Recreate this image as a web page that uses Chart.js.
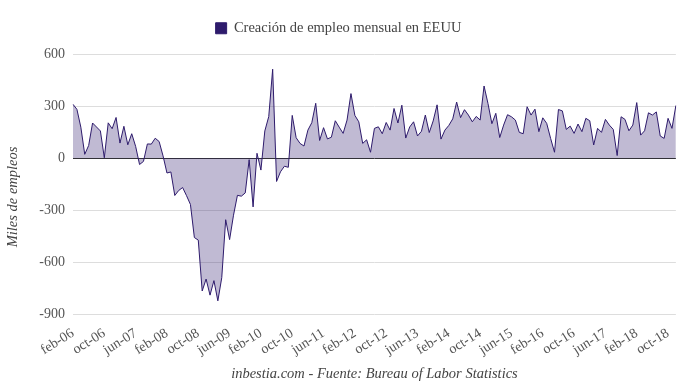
<!DOCTYPE html>
<html>
<head>
<meta charset="utf-8">
<script src="https://cdn.jsdelivr.net/npm/chart.js@4"></script>
<style>
  html, body { margin: 0; padding: 0; background: #fff; }
  #wrap { width: 680px; height: 387px; }
</style>
</head>
<body>
<div id="wrap"><canvas id="myChart" width="680" height="387"></canvas></div>
<script>
// Abreviaturas de los meses para el eje x
const mesesEtiqueta = ['jan', 'feb', 'mar', 'apr', 'may', 'jun', 'jul', 'aug', 'sep', 'oct', 'nov', 'dec'];

// Creación de empleo mensual (miles) (feb-06 .. dic-18)
const empleo2006 = [312, 283, 180, 23, 74, 204, 181, 158, 3, 205, 171];
const empleo2007 = [236, 88, 185, 78, 142, 69, -36, -18, 83, 82, 116, 97];
const empleo2008 = [14, -85, -79, -215, -186, -169, -216, -267, -458, -473, -767, -698];
const empleo2009 = [-791, -707, -824, -690, -355, -470, -329, -214, -219, -200, -8, -281];
const empleo2010 = [29, -68, 158, 241, 515, -134, -78, -46, -52, 248, 119, 86];
const empleo2011 = [71, 163, 206, 318, 103, 177, 112, 122, 217, 180, 144, 221];
const empleo2012 = [374, 248, 211, 86, 107, 35, 173, 182, 142, 207, 163, 288];
const empleo2013 = [204, 307, 117, 181, 211, 129, 156, 250, 149, 216, 309, 111];
const empleo2014 = [163, 190, 228, 325, 235, 281, 250, 211, 242, 221, 418, 317];
const empleo2015 = [200, 260, 120, 192, 252, 240, 221, 150, 142, 298, 250, 284];
const empleo2016 = [154, 234, 202, 115, 35, 282, 274, 167, 186, 144, 198, 154];
const empleo2017 = [231, 217, 77, 173, 150, 225, 192, 167, 16, 240, 225, 159];
const empleo2018 = [192, 322, 134, 159, 263, 250, 268, 129, 115, 231, 173, 305];

const empleo = [].concat(empleo2006, empleo2007, empleo2008, empleo2009, empleo2010,
    empleo2011, empleo2012, empleo2013, empleo2014, empleo2015, empleo2016,
    empleo2017, empleo2018);

// Etiquetas del eje x: "feb-06", "mar-06", ...
const etiquetas = [];
for (let i = 0; i < empleo.length; i++) {
    const m = (1 + i) % 12;
    const a = 6 + Math.floor((1 + i) / 12);
    etiquetas.push(mesesEtiqueta[m] + '-' + String(a).padStart(2, '0'));
}
// Solo se ve una etiqueta cada 8 meses
const etiquetasVisibles = ['feb-06', 'oct-06', 'jun-07', 'feb-08', 'oct-08', 'jun-09', 'feb-10',
    'oct-10', 'jun-11', 'feb-12', 'oct-12', 'jun-13', 'feb-14', 'oct-14', 'jun-15', 'feb-16',
    'oct-16', 'jun-17', 'feb-18', 'oct-18'];

const ticksY = [600, 300, 0, -300, -600, -900];

const fuente = "'Liberation Serif', 'DejaVu Serif', serif";
const morado = '#2e1b6c';

// Un poco más de espacio debajo de la leyenda
const legendaAlta = {
    id: 'legendaAlta',
    beforeInit: function(chart) {
        const fit = chart.legend.fit;
        chart.legend.fit = function() {
            fit.bind(chart.legend)();
            this.height += 9;
        };
    }
};

const ctx = document.getElementById('myChart').getContext('2d');

const myChart = new Chart(ctx, {
    type: 'line',
    data: {
        labels: etiquetas,
        datasets: [{
            label: 'Creación de empleo mensual en EEUU',
            data: empleo,
            borderColor: morado,
            borderWidth: 1,
            backgroundColor: 'rgba(46, 27, 108, 0.3)',
            fill: 'origin',
            pointRadius: 0,
            tension: 0
        }]
    },
    plugins: [legendaAlta],
    options: {
        responsive: false,
        animation: false,
        layout: { padding: { top: 11, right: 3, left: 0, bottom: 0 } },
        plugins: {
            legend: {
                labels: {
                    boxWidth: 11,
                    boxHeight: 11,
                    color: '#444',
                    font: { family: fuente, size: 14.5 },
                    generateLabels: function(chart) {
                        return Chart.defaults.plugins.legend.labels.generateLabels(chart).map(function(l) {
                            l.fillStyle = morado;
                            l.strokeStyle = morado;
                            return l;
                        });
                    }
                }
            },
            tooltip: { enabled: false }
        },
        scales: {
            x: {
                grid: { display: false },
                border: { display: false },
                ticks: {
                    autoSkip: false,
                    minRotation: 32,
                    maxRotation: 32,
                    color: '#555',
                    font: { family: fuente, size: 14 },
                    callback: function(v, i) {
                        return i % 8 === 0 ? etiquetasVisibles[i / 8] : null;
                    }
                },
                title: {
                    display: true,
                    text: 'inbestia.com - Fuente: Bureau of Labor Statistics',
                    color: '#444',
                    font: { family: fuente, size: 14.5, style: 'italic' },
                    padding: { top: 10 }
                },
                afterFit: function(scale) { scale.height = 73; }
            },
            y: {
                min: -900,
                max: 600,
                afterBuildTicks: function(scale) {
                    scale.ticks = ticksY.map(v => ({ value: v }));
                },
                border: { display: false },
                grid: {
                    color: function(c) { return c.tick && c.tick.value === 0 ? '#333' : '#ddd'; },
                    drawTicks: false
                },
                ticks: {
                    color: '#555',
                    padding: 8,
                    font: { family: fuente, size: 14 }
                },
                title: {
                    display: true,
                    // espacios al final: el título queda algo más abajo, como en el original
                    text: 'Miles de empleos       ',
                    color: '#444',
                    font: { family: fuente, size: 14.5, style: 'italic' },
                    padding: { top: 4, bottom: 4 }
                },
                afterFit: function(scale) { scale.width = 73; }
            }
        }
    }
});
</script>
</body>
</html>
